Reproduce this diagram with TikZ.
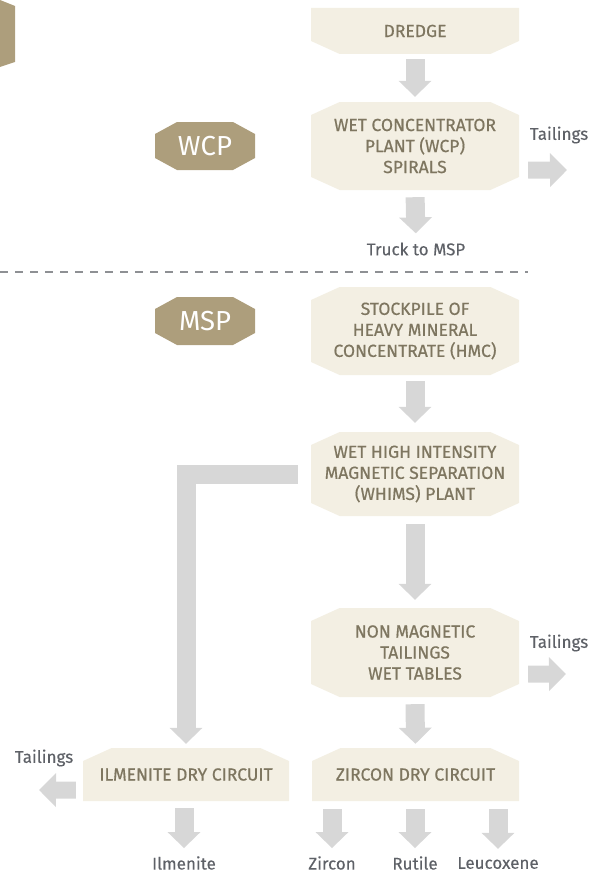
\documentclass[tikz,border=0pt]{standalone}
\usepackage{fontspec}
\setmainfont{Fira Sans}
\newfontfamily\boxfont{Fira Sans}[FakeBold=0.6]
\newfontfamily\lblfont{Fira Sans}[FakeBold=0.25]
\usetikzlibrary{arrows.meta,calc}
\definecolor{boxfill}{HTML}{F3EFE3}
\definecolor{boxtext}{HTML}{7E7660}
\definecolor{badgefill}{HTML}{AD9E7C}
\definecolor{arrowgrey}{HTML}{D7D7D7}
\definecolor{labelgrey}{HTML}{5E6167}
\definecolor{dashgrey}{HTML}{8E9094}
\newcommand\flowbox[8]{%
  \fill[boxfill] ({#2-#4/2},{#3-#5/2+#6}) -- ({#2-#4/2+2.2*#6},{#3-#5/2}) -- ({#2+#4/2-2.2*#6},{#3-#5/2}) -- ({#2+#4/2},{#3-#5/2+#6})
    -- ({#2+#4/2},{#3+#5/2-#7}) -- ({#2+#4/2-2.2*#7},{#3+#5/2}) -- ({#2-#4/2+2.2*#7},{#3+#5/2}) -- ({#2-#4/2},{#3+#5/2-#7}) -- cycle;
  \node[boxtext, minimum width=#4pt, minimum height=#5pt] (#1) at (#2,#3) {#8};}
\newcommand\badge[4]{% name, cx, cy, text
  \fill[badgefill] ({#2-50},{#3-12}) -- ({#2-28},{#3-24}) -- ({#2+28},{#3-24}) -- ({#2+50},{#3-12})
    -- ({#2+50},{#3+12}) -- ({#2+28},{#3+24}) -- ({#2-28},{#3+24}) -- ({#2-50},{#3+12}) -- cycle;
  \node[badgetext] (#1) at (#2,#3) {#4};}
\tikzset{
  boxtext/.style={inner sep=0pt, align=center, text=boxtext, font=\boxfont\fontsize{17.5}{21}\selectfont},
  badgetext/.style={inner sep=0pt, text=white, font=\fontsize{27.5}{27.5}\selectfont},
  lbl/.style={inner sep=0pt, text=labelgrey, font=\lblfont\fontsize{17}{19}\selectfont},
  blockarrow/.style={draw=arrowgrey, line width=19pt, line join=miter, -{Triangle[width=32pt,length=16pt]}},
  sidearrow/.style={draw=arrowgrey, line width=17pt, -{Triangle[width=33pt,length=17pt]}},
  dashline/.style={draw=dashgrey, line width=1.4pt, dash pattern=on 8pt off 7pt}
}
\begin{document}
\begin{tikzpicture}[x=1pt,y=-1pt]
\useasboundingbox (0,0) rectangle (604,875);
% partial badge top left
\fill[badgefill] (0,0) -- (15,6) -- (15,62) -- (0,67) -- cycle;
% boxes
\flowbox{dredge}{415}{31}{208}{46}{0}{13}{DREDGE}
\flowbox{wcp}{415}{146}{208}{88}{13}{13}{WET CONCENTRATOR\\PLANT (WCP)\\SPIRALS}
\flowbox{hmc}{415}{331}{208}{88}{13}{13}{STOCKPILE OF\\HEAVY MINERAL\\CONCENTRATE (HMC)}
\flowbox{whims}{415}{474}{208}{84}{13}{13}{WET HIGH INTENSITY\\MAGNETIC SEPARATION\\(WHIMS) PLANT}
\flowbox{nonmag}{415}{652.5}{208}{89}{13}{13}{NON MAGNETIC\\TAILINGS\\WET TABLES}
\flowbox{ilm}{186}{774.5}{206}{53}{13}{0}{ILMENITE DRY CIRCUIT}
\flowbox{zdc}{415.5}{774.5}{207}{53}{13}{0}{ZIRCON DRY CIRCUIT}
% badges
\badge{wcpb}{205}{146}{WCP}
\badge{mspb}{205}{321}{MSP}
% dashed separator
\coordinate (dl) at (0,272);
\coordinate (dr) at (528,272);
\draw[dashline] (dl) -- (dr);
% labels
\node[lbl] (truck) at (416,249) {Truck to MSP};
\node[lbl] (tail1) at (559,135) {Tailings};
\node[lbl] (tail2) at (559,643) {Tailings};
\node[lbl] (tail3) at (44,758) {Tailings};
\node[lbl] (pil) at (184,863) {Ilmenite};
\node[lbl] (pzr) at (332,863) {Zircon};
\node[lbl] (pru) at (415,863) {Rutile};
\node[lbl] (ple) at (498,863) {Leucoxene};
% main arrows
\draw[blockarrow, shorten <=5pt, shorten >=5pt] (dredge.south) -- (wcp.north);
\draw[blockarrow, shorten <=7pt, shorten >=9pt] (wcp.south) -- (truck.north);
\draw[blockarrow, shorten <=6pt, shorten >=9pt] (hmc.south) -- (whims.north);
\draw[blockarrow, shorten <=8pt, shorten >=8pt] (whims.south) -- (nonmag.north);
\draw[blockarrow, shorten <=7pt, shorten >=4pt] (nonmag.south) -- (zdc.north);
\draw[blockarrow, shorten <=13pt, shorten >=4pt] (whims.west) -| (ilm.north);
% product arrows
\draw[blockarrow, shorten <=7pt, shorten >=8pt] (ilm.south -| pil) -- (pil.north);
\draw[blockarrow, shorten <=8pt, shorten >=8pt] (zdc.south -| pzr) -- (pzr.north);
\draw[blockarrow, shorten <=8pt, shorten >=8pt] (zdc.south -| pru) -- (pru.north);
\draw[blockarrow, shorten <=8pt, shorten >=8pt] (zdc.south -| ple) -- (ple.north);
% tailings arrows
\coordinate (t1) at (567,170);
\coordinate (t2) at (566,674);
\coordinate (t3) at (39,790);
\draw[sidearrow] ($(wcp.south east)+(9,-20)$) -- (t1);
\draw[sidearrow] ($(nonmag.south east)+(9,-23)$) -- (t2);
\draw[sidearrow] ($(ilm.south west)+(-7,-11)$) -- (t3);
\end{tikzpicture}
\end{document}
